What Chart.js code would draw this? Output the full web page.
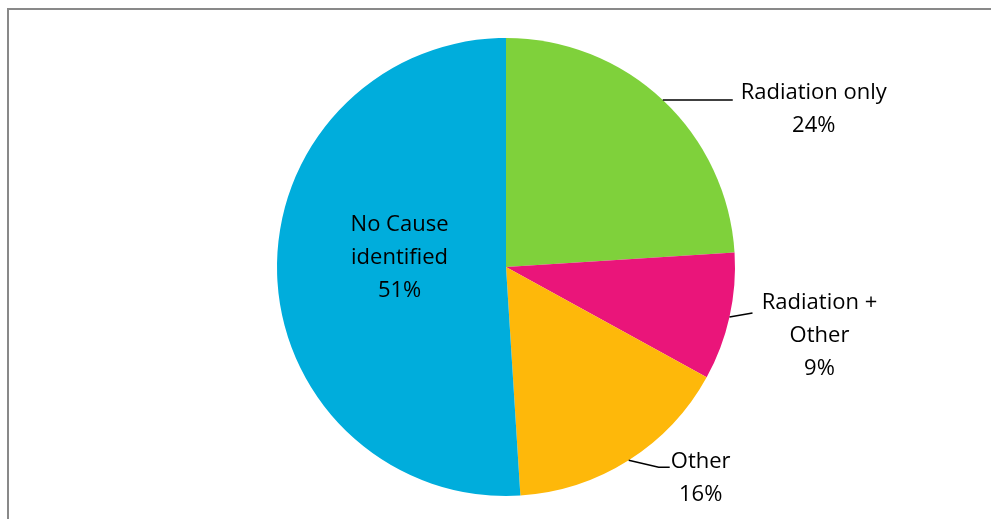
<!DOCTYPE html>
<html>
<head>
<meta charset="utf-8">
<script src="https://cdn.jsdelivr.net/npm/chart.js@4/dist/chart.umd.min.js"></script>
<style>
  html, body { margin: 0; padding: 0; background: #fff; }
  #wrap { position: relative; width: 991px; height: 519px; overflow: hidden; }
  #frame { position: absolute; left: 7px; top: 8px; width: 1000px; height: 600px;
           border-left: 2px solid #898989; border-top: 2px solid #898989; }
  canvas { position: absolute; left: 0; top: 0; }
</style>
</head>
<body>
<div id="wrap">
  <div id="frame"></div>
  <canvas id="causeChart" width="991" height="519"></canvas>
</div>
<script>
// Data
const categories = ['Radiation only', 'Radiation + Other', 'Other', 'No Cause identified'];
const shares = [24, 9, 16, 51];
const sliceColors = ['#7FD13B', '#EA157A', '#FEB80A', '#00ADDC'];

// label text lines per slice (percent added below)
const labelLines = [
    ['Radiation only'],
    ['Radiation +', 'Other'],
    ['Other'],
    ['No Cause', 'identified']
];

// label placement relative to the slice's mid-angle edge point
const labelPlacement = [
    { leader: [[70, 0]], textDx: 151, textDy: 9 },
    { leader: [[23, -4]], textDx: 90, textDy: 19 },
    { leader: [[30, 7], [41, 7]], textDx: 72, textDy: 18 },
    { inside: 0.465, textDx: 0, textDy: -13 }
];

const FONT = '22px "Open Sans", Lato, sans-serif';
const LINE_H = 33;

const labelPlugin = {
    id: 'pieLabels',
    afterDatasetsDraw(chart) {
        const ctx = chart.ctx;
        const meta = chart.getDatasetMeta(0);
        ctx.save();
        ctx.font = FONT;
        ctx.fillStyle = '#000';
        ctx.textAlign = 'center';
        ctx.textBaseline = 'middle';
        meta.data.forEach((arc, i) => {
            const p = arc.getProps(['x', 'y', 'startAngle', 'endAngle', 'outerRadius'], true);
            const mid = (p.startAngle + p.endAngle) / 2;
            const place = labelPlacement[i];
            const lines = labelLines[i].concat([shares[i] + '%']);
            let cx, cy;
            if (place.inside) {
                cx = p.x + Math.cos(mid) * p.outerRadius * place.inside + place.textDx;
                cy = p.y + Math.sin(mid) * p.outerRadius * place.inside + place.textDy;
            } else {
                const ex = p.x + Math.cos(mid) * p.outerRadius;
                const ey = p.y + Math.sin(mid) * p.outerRadius;
                ctx.strokeStyle = '#000';
                ctx.lineWidth = 1.5;
                ctx.beginPath();
                ctx.moveTo(ex, ey);
                place.leader.forEach(pt => ctx.lineTo(ex + pt[0], ey + pt[1]));
                ctx.stroke();
                cx = ex + place.textDx;
                cy = ey + place.textDy;
            }
            const top = cy - (lines.length - 1) * LINE_H / 2;
            lines.forEach((t, k) => ctx.fillText(t, cx, top + k * LINE_H));
        });
        ctx.restore();
    }
};

const chart = new Chart(document.getElementById('causeChart'), {
    type: 'pie',
    data: {
        labels: categories,
        datasets: [{
            data: shares,
            backgroundColor: sliceColors,
            borderWidth: 0
        }]
    },
    options: {
        responsive: false,
        animation: false,
        layout: { padding: { left: 21, right: 0, top: 38, bottom: 23 } },
        plugins: {
            legend: { display: false },
            tooltip: { enabled: false }
        }
    },
    plugins: [labelPlugin]
});
</script>
</body>
</html>
